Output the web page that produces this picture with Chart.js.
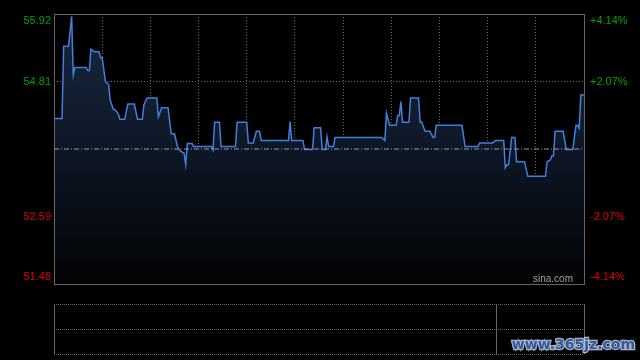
<!DOCTYPE html>
<html>
<head>
<meta charset="utf-8">
<script src="https://cdn.jsdelivr.net/npm/chart.js@4.4.1/dist/chart.umd.min.js"></script>
<style>
    html, body { margin: 0; padding: 0; background: #000; }
    #wrap { position: relative; width: 640px; height: 360px; overflow: hidden; }
    #mainBox { position: absolute; left: 0; top: 0; width: 640px; height: 300px; }
    #volBox { position: absolute; left: 0; top: 300px; width: 640px; height: 60px; }
</style>
</head>
<body>
<div id="wrap">
    <div id="mainBox"><canvas id="priceChart"></canvas></div>
    <div id="volBox"><canvas id="volChart"></canvas></div>
</div>
<script>

// minutes since open (5.5h session) and price
const minutes = [0, 5, 6, 9, 11, 12, 13, 20, 21, 22, 23, 25, 28, 29, 30, 32, 34, 35, 37, 38,
    40, 41, 44, 46, 50, 52, 55, 56, 58, 64, 65, 67, 71, 73, 75, 77, 79, 81, 82, 83,
    86, 87, 98, 99, 100, 103, 104, 113, 114, 120, 121, 124, 126, 128, 129, 146, 147, 148, 155, 156,
    161, 162, 166, 167, 169, 170, 171, 174, 175, 204, 206, 207, 209, 213, 214, 215, 216, 217, 221, 222,
    227, 228, 229, 231, 234, 236, 237, 238, 254, 256, 264, 265, 273, 275, 280, 281, 282, 283, 285, 287,
    288, 293, 295, 306, 307, 309, 310, 311, 312, 317, 319, 323, 325, 326, 327, 328, 330];

const prices = [54.20, 54.20, 55.39, 55.39, 55.88, 54.92, 55.04, 55.04, 54.99, 54.99, 55.34, 55.30, 55.30, 55.20, 55.20, 54.81, 54.76, 54.50, 54.35, 54.35,
    54.28, 54.19, 54.19, 54.44, 54.44, 54.19, 54.19, 54.43, 54.54, 54.54, 54.23, 54.38, 54.38, 53.95, 53.95, 53.73, 53.66, 53.63, 53.44, 53.79,
    53.79, 53.74, 53.74, 53.68, 54.14, 54.14, 53.74, 53.74, 54.14, 54.14, 53.80, 53.80, 53.99, 53.99, 53.84, 53.84, 54.15, 53.84, 53.84, 53.69,
    53.69, 54.05, 54.05, 53.69, 53.69, 53.90, 53.74, 53.74, 53.89, 53.89, 53.84, 54.29, 54.09, 54.09, 54.25, 54.25, 54.48, 54.14, 54.14, 54.54,
    54.54, 54.14, 54.14, 53.99, 53.99, 53.89, 53.89, 54.09, 54.09, 53.74, 53.74, 53.80, 53.80, 53.84, 53.84, 53.39, 53.44, 53.44, 53.89, 53.89,
    53.49, 53.49, 53.25, 53.25, 53.49, 53.52, 53.59, 53.59, 53.99, 53.99, 53.69, 53.69, 54.09, 54.09, 54.04, 54.59, 54.59];

const prevClose = 53.70;
const priceTicks = [51.48, 52.59, 53.70, 54.81, 55.92];
const pctLabels = ['-4.14%', '-2.07%', '', '+2.07%', '+4.14%'];
const sessionEnd = 330;
const volCursor = 275;

const upColor = '#00a000';
const downColor = '#dd0000';
const gridColor = 'rgba(140,140,140,0.75)';
const frameColor = '#666';

Chart.defaults.font.family = '"Liberation Sans", Arial, sans-serif';
Chart.defaults.font.size = 11;

// top and bottom labels are nudged inside the frame like the original
function stackLabel(text, i) {
    if (text === '') return '';
    if (i === priceTicks.length - 1) return ['', text];
    if (i === 0) return [text, ''];
    return text;
}

function tickColor(ctx) {
    const v = priceTicks[ctx.index];
    if (v > prevClose) return upColor;
    if (v < prevClose) return downColor;
    return '#ccc';
}

function noPad(scale) {
    scale.paddingTop = 0;
    scale.paddingBottom = 0;
    scale.paddingLeft = 0;
    scale.paddingRight = 0;
}

const framePlugin = {
    id: 'frame',
    afterDraw(chart) {
        const { ctx, chartArea: a } = chart;
        ctx.save();
        ctx.strokeStyle = frameColor;
        ctx.lineWidth = 1;
        ctx.strokeRect(Math.round(a.left) + 0.5, Math.round(a.top) + 0.5,
            Math.round(a.right - a.left), Math.round(a.bottom - a.top));
        ctx.fillStyle = '#a0a0a0';
        ctx.font = '10px "Liberation Sans", Arial, sans-serif';
        ctx.textAlign = 'right';
        ctx.textBaseline = 'middle';
        ctx.fillText('sina.com', a.right - 11, a.bottom - 5);
        ctx.restore();
    }
};

function fillGradient(context) {
    const area = context.chart.chartArea;
    if (!area) return 'rgba(20,34,58,0.9)';
    const g = context.chart.ctx.createLinearGradient(0, area.top, 0, area.bottom);
    g.addColorStop(0, '#18283f');
    g.addColorStop(0.5, '#0e1727');
    g.addColorStop(1, '#020304');
    return g;
}

new Chart(document.getElementById('priceChart'), {
    type: 'line',
    data: {
        datasets: [
            {
                label: 'price',
                data: minutes.map((m, i) => ({ x: m, y: prices[i] })),
                borderColor: '#3f80de',
                borderWidth: 1.5,
                backgroundColor: fillGradient,
                fill: 'start',
                pointRadius: 0,
                tension: 0,
                order: 2,
                yAxisID: 'y'
            },
            {
                label: 'prev close',
                data: [{ x: 0, y: prevClose }, { x: sessionEnd, y: prevClose }],
                borderColor: '#9a9a9a',
                borderWidth: 1,
                borderDash: [5, 2, 1, 2],
                pointRadius: 0,
                fill: false,
                order: 1,
                yAxisID: 'y'
            }
        ]
    },
    plugins: [framePlugin],
    options: {
        responsive: true,
        maintainAspectRatio: false,
        animation: false,
        layout: { padding: { top: 14, bottom: 16, left: 0, right: 0 } },
        plugins: {
            legend: { display: false },
            tooltip: { enabled: false }
        },
        scales: {
            x: {
                type: 'linear',
                min: 0,
                max: sessionEnd,
                z: 1,
                ticks: { display: false, stepSize: 30 },
                grid: { color: gridColor, drawTicks: false },
                border: { display: false, dash: [1, 2] },
                afterFit: (scale) => { scale.height = 0; noPad(scale); }
            },
            y: {
                position: 'left',
                min: priceTicks[0],
                max: priceTicks[priceTicks.length - 1],
                z: 1,
                afterBuildTicks: (scale) => { scale.ticks = priceTicks.map(v => ({ value: v })); },
                ticks: {
                    padding: 3,
                    color: tickColor,
                    callback: (v, i) => stackLabel(v === prevClose ? '' : v.toFixed(2), i)
                },
                grid: {
                    drawTicks: false,
                    color: (ctx) => (ctx.tick && ctx.tick.value === prevClose) ? 'rgba(0,0,0,0)' : gridColor
                },
                border: { display: false, dash: [1, 2] },
                afterFit: (scale) => { scale.width = 54; noPad(scale); }
            },
            y2: {
                position: 'right',
                min: priceTicks[0],
                max: priceTicks[priceTicks.length - 1],
                afterBuildTicks: (scale) => { scale.ticks = priceTicks.map(v => ({ value: v })); },
                ticks: {
                    padding: 6,
                    color: tickColor,
                    callback: (v, i) => stackLabel(pctLabels[i], i)
                },
                grid: { drawOnChartArea: false, drawTicks: false },
                border: { display: false },
                afterFit: (scale) => { scale.width = 56; noPad(scale); }
            }
        }
    }
});


const volPlugin = {
    id: 'volFrame',
    afterDraw(chart) {
        const { ctx, chartArea: a } = chart;
        const cx = Math.round(chart.scales.x.getPixelForValue(volCursor)) + 0.5;
        ctx.save();
        ctx.strokeStyle = frameColor;
        ctx.lineWidth = 1;
        ctx.beginPath();
        ctx.moveTo(Math.round(a.left) + 0.5, a.top);
        ctx.lineTo(Math.round(a.left) + 0.5, a.bottom);
        ctx.moveTo(Math.round(a.right) + 0.5, a.top);
        ctx.lineTo(Math.round(a.right) + 0.5, a.bottom);
        ctx.moveTo(cx, a.top);
        ctx.lineTo(cx, a.bottom);
        ctx.stroke();

        // site watermark in the corner
        ctx.font = 'bold 14px "DejaVu Sans", sans-serif';
        ctx.textAlign = 'right';
        ctx.textBaseline = 'middle';
        ctx.lineWidth = 2.5;
        ctx.strokeStyle = 'rgba(200,210,228,0.85)';
        ctx.strokeText('www.365jz.com', 635, 45);
        ctx.fillStyle = '#2f5aa3';
        ctx.fillText('www.365jz.com', 635, 45);
        ctx.restore();
    }
};

new Chart(document.getElementById('volChart'), {
    type: 'line',
    data: { datasets: [{ label: 'volume', data: [] }] },
    plugins: [volPlugin],
    options: {
        responsive: true,
        maintainAspectRatio: false,
        animation: false,
        layout: { padding: { top: 4, bottom: 6, left: 0, right: 56 } },
        plugins: {
            legend: { display: false },
            tooltip: { enabled: false }
        },
        scales: {
            x: { type: 'linear', min: 0, max: sessionEnd, offset: false, display: false },
            y: {
                min: 0,
                max: 1,
                ticks: { display: false, stepSize: 0.5 },
                grid: { color: gridColor, drawTicks: false },
                border: { display: false, dash: [1, 1] },
                afterFit: (scale) => { scale.width = 54; noPad(scale); }
            }
        }
    }
});
</script>
</body>
</html>
